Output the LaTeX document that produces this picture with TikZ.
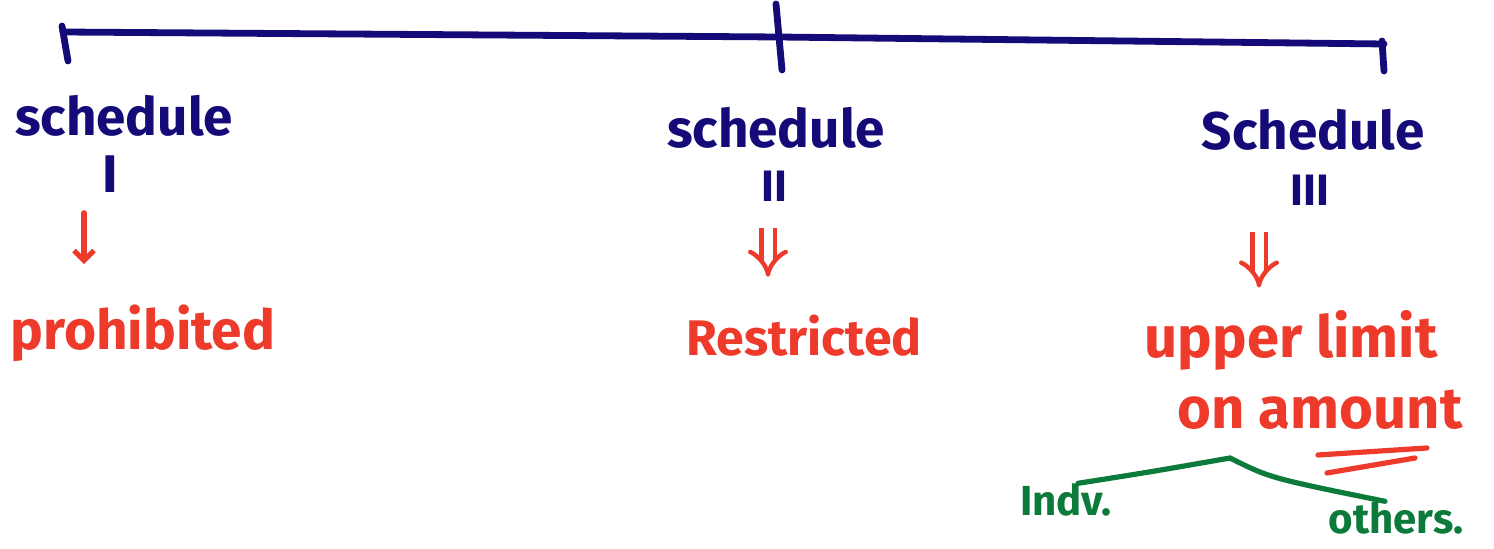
\documentclass[tikz,border=0pt]{standalone}
\usepackage{fontspec}
\setmainfont{Fira Sans}
\usetikzlibrary{arrows.meta}
\definecolor{ink}{HTML}{140A78}
\definecolor{pen}{HTML}{EE3A2A}
\definecolor{leaf}{HTML}{0B7A3A}
\tikzset{
  rule/.style={draw=ink, line width=3.4pt, line cap=round},
  head/.style={text=ink, font=\bfseries\fontsize{26.5}{27}\selectfont, inner sep=0pt},
  numeral/.style={text=ink, font=\bfseries\fontsize{22}{22}\selectfont, inner sep=0pt},
  result/.style={text=pen, font=\bfseries\fontsize{29}{31}\selectfont, inner sep=0pt},
  single/.style={draw=pen, line width=2.6pt, line cap=round, -{Straight Barb[length=5pt,width=10pt]}},
  twin/.style={draw=pen, line width=2.2pt, double, double distance=4.5pt, -{Implies}},
  underline/.style={draw=pen, line width=2.6pt, line cap=round},
  branch/.style={draw=leaf, line width=2.6pt, line cap=round},
  leafnote/.style={text=leaf, font=\bfseries\fontsize{21}{21}\selectfont, inner sep=0pt}
}
\begin{document}
\begin{tikzpicture}[x=0.5pt,y=-0.5pt]
\useasboundingbox (0,0) rectangle (1494,549);

% timeline with three ticks
\coordinate (l0) at (63,32);
\coordinate (m0) at (778,37);
\coordinate (r0) at (1384,44);
\draw[rule] (l0) -- (m0) -- (r0);
\draw[rule] (62,26) -- (68,61);
\draw[rule] (776,4) -- (782,70);
\draw[rule] (1382,41) -- (1384,71);

% schedule headings
\node[head] (s1) at (124,116) {schedule};
\node[head] (n1) at (110,174) {I};
\node[head] (s2) at (776,128) {schedule};
\node[numeral] (n2) at (774,186) {II};
\node[head] (s3) at (1313,130) {Schedule};
\node[numeral] (n3) at (1310,190) {III};

% outcomes
\node[result, font=\bfseries\fontsize{27.5}{30}\selectfont] (p1) at (143,333) {prohibited};
\node[result, font=\bfseries\fontsize{25}{30}\selectfont] (p2) at (804,336) {Restricted};
\node[result] (p3) at (1291,340) {upper limit};
\node[result] (p4) at (1320,410) {on amount};

% arrows from schedules to outcomes
\draw[single, shorten <=10pt, shorten >=20pt] (n1.south -| 84,0) -- (p1.north -| 84,0);
\draw[twin, shorten <=13pt, shorten >=19pt] (n2.south -| 768,0) -- (p2.north -| 768,0);
\draw[twin, shorten <=13pt, shorten >=11pt] (n3.south -| 1259,0) -- (p3.north -| 1259,0);

% double underline under "amount"
\draw[underline] (1318,455) -- (1427,448);
\draw[underline] (1327,473) -- (1415,458);

% split into two groups
\node[leafnote] (g1) at (1066,500) {Indv.};
\node[leafnote] (g2) at (1396,518) {others.};
\coordinate (top) at (1230,458);
\draw[branch] (g1.north -| 1078,0) .. controls (1150,472) .. (top)
  .. controls (1270,478) .. (g2.north -| 1385,0);
\end{tikzpicture}
\end{document}
